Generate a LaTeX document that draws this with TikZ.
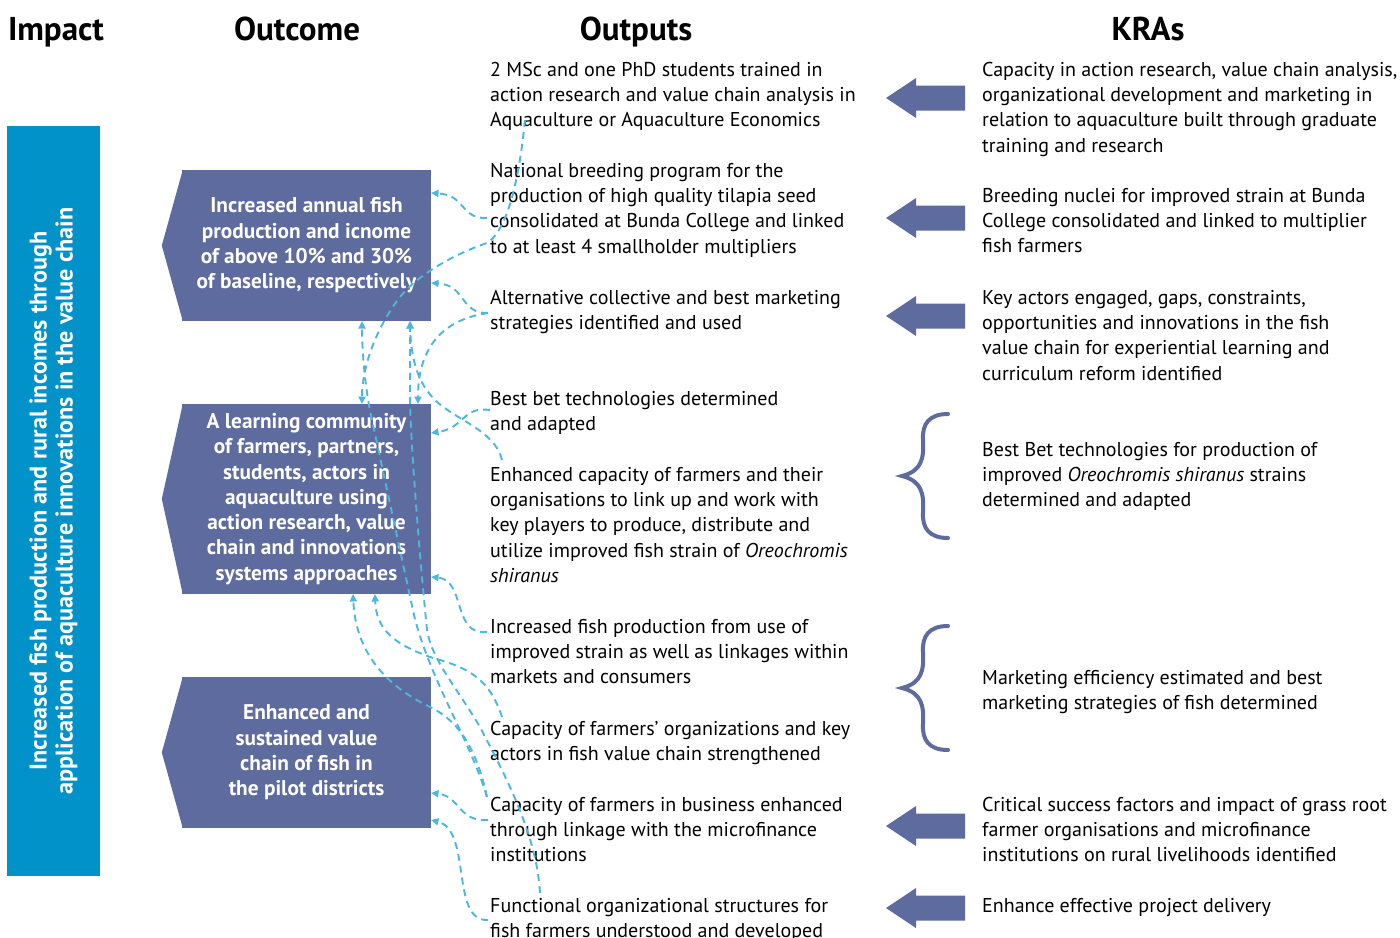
\documentclass[tikz,border=0pt]{standalone}
\usepackage{fontspec}
\setmainfont{PT Sans}
\usetikzlibrary{arrows.meta,backgrounds}
\definecolor{boxc}{RGB}{94,107,158}
\definecolor{impc}{RGB}{0,146,200}
\definecolor{dashc}{RGB}{77,182,220}
\newcommand{\bodyfs}{\fontsize{20}{25.3}\selectfont}
\newcommand{\boxfs}{\bfseries\fontsize{21.3}{25.3}\selectfont}
\newcommand{\impfs}{\bfseries\fontsize{24.2}{26}\selectfont}
\newcommand{\headfs}{\bfseries\fontsize{33}{36}\selectfont}
\begin{document}
\begin{tikzpicture}[x=1pt,y=-1pt,
  txt/.style={anchor=north west, inner sep=0pt, align=left, font=\bodyfs, yshift=17.71pt},
  hdr/.style={anchor=base, inner sep=0pt, font=\headfs},
  outbox/.style={fill=boxc, text=white, font=\boxfs, align=center, minimum width=249pt, inner sep=0pt},
  link/.style={draw=dashc, line width=1.9pt, dash pattern=on 7pt off 5pt, -{Triangle[length=7.5pt,width=7pt]}},
  brc/.style={draw=boxc, line width=4pt, line cap=round},
  kraarrow/.pic={\fill[boxc] (-39,0) -- (-9,-20) -- (-9,-12.5) -- (40,-12.5) -- (40,12.5) -- (-9,12.5) -- (-9,20) -- cycle;},
  bigbrace/.pic={\draw[brc] (46,-62) .. controls (27,-62) and (20,-52) .. (21,-36) .. controls (22,-18) and (20,-5) .. (0,0) .. controls (20,5) and (22,18) .. (21,36) .. controls (20,52) and (27,62) .. (46,62);}
]
\useasboundingbox (0,0) rectangle (1400,937);

% headers
\node[hdr] (hImpact) at (56,40) {Impact};
\node[hdr] (hOutcome) at (297,40) {Outcome};
\node[hdr] (hOutputs) at (636,40) {Outputs};
\node[hdr] (hKRAs) at (1148,40) {KRAs};

% impact bar
\node[rotate=90, fill=impc, minimum width=750pt, minimum height=93pt, inner sep=0pt,
      text=white, align=center, font=\impfs] (impact) at (53.5,501)
  {Increased fish production and rural incomes through\\application of aquaculture innovations in the value chain};

% outcome boxes
\node[outbox, minimum height=151pt] (oc1) at (306.5,245.5)
  {Increased annual fish\\production and icnome\\of above 10\% and 30\%\\of baseline, respectively};
\node[outbox, minimum height=190pt] (oc2) at (306.5,499)
  {A learning community\\of farmers, partners,\\students, actors in\\aquaculture using\\action research, value\\chain and innovations\\systems approaches};
\node[outbox, minimum height=151pt] (oc3) at (306.5,752.5)
  {Enhanced and\\sustained value\\chain of fish in\\the pilot districts};
\begin{scope}[on background layer]
  \fill[boxc] ([xshift=1pt]oc1.north west) -- ([xshift=-20pt]oc1.west) -- ([xshift=1pt]oc1.south west) -- cycle;
  \fill[boxc] ([xshift=1pt]oc2.north west) -- ([xshift=-20pt]oc2.west) -- ([xshift=1pt]oc2.south west) -- cycle;
  \fill[boxc] ([xshift=1pt]oc3.north west) -- ([xshift=-20pt]oc3.west) -- ([xshift=1pt]oc3.south west) -- cycle;
\end{scope}

% outputs
\node[txt] (out1) at (490,76) {\strut 2 MSc and one PhD students trained in\\action research and value chain analysis in\\Aquaculture or Aquaculture Economics};
\node[txt] (out2) at (490,177) {\strut National breeding program for the\\production of high quality tilapia seed\\consolidated at Bunda College and linked\\to at least 4 smallholder multipliers};
\node[txt] (out3) at (490,304) {\strut Alternative collective and best marketing\\strategies identified and used};
\node[txt] (out4) at (490,405) {\strut Best bet technologies determined\\and adapted};
\node[txt] (out5) at (490,481) {\strut Enhanced capacity of farmers and their\\organisations to link up and work with\\key players to produce, distribute and\\utilize improved fish strain of \textit{Oreochromis}\\\textit{shiranus}};
\node[txt] (out6) at (490,633) {\strut Increased fish production from use of\\improved strain as well as linkages within\\markets and consumers};
\node[txt] (out7) at (490,735) {\strut Capacity of farmers’ organizations and key\\actors in fish value chain strengthened};
\node[txt] (out8) at (490,811) {\strut Capacity of farmers in business enhanced\\through linkage with the microfinance\\institutions};
\node[txt] (out9) at (490,912) {\strut Functional organizational structures for\\fish farmers understood and developed};

% KRAs
\node[txt] (kra1) at (982,76) {\strut Capacity in action research, value chain analysis,\\organizational development and marketing in\\relation to aquaculture built through graduate\\training and research};
\node[txt] (kra2) at (982,202) {\strut Breeding nuclei for improved strain at Bunda\\College consolidated and linked to multiplier\\fish farmers};
\node[txt] (kra3) at (982,304) {\strut Key actors engaged, gaps, constraints,\\opportunities and innovations in the fish\\value chain for experiential learning and\\curriculum reform identified};
\node[txt] (kra4) at (982,456) {\strut Best Bet technologies for production of\\improved \textit{Oreochromis shiranus} strains\\determined and adapted};
\node[txt] (kra5) at (982,684) {\strut Marketing efficiency estimated and best\\marketing strategies of fish determined};
\node[txt] (kra6) at (982,811) {\strut Critical success factors and impact of grass root\\farmer organisations and microfinance\\institutions on rural livelihoods identified};
\node[txt] (kra7) at (982,912) {\strut Enhance effective project delivery};

% block arrows and braces
\pic at (925,98) {kraarrow};
\pic at (925,218) {kraarrow};
\pic at (925,316) {kraarrow};
\pic at (925,826) {kraarrow};
\pic at (925,908) {kraarrow};
\pic at (902,476) {bigbrace};
\pic at (902,688) {bigbrace};

% connector end points
\coordinate (s1) at (525,120);
\coordinate (s2) at (487,218);
\coordinate (s3) at (488,313);
\coordinate (s4) at (490,410);
\coordinate (s5) at (502,460);
\coordinate (s6) at (487,632);
\coordinate (s7) at (502,717);
\coordinate (s8) at (487,797);
\coordinate (s8b) at (488,820);
\coordinate (s9) at (488,920);
\coordinate (s9b) at (540,893);
\coordinate (t1a) at (431,193);
\coordinate (t1b) at (431,283);
\coordinate (t1c) at (362,321);
\coordinate (t1d) at (410,321);
\coordinate (t2a) at (362,404);
\coordinate (t2b) at (418,404);
\coordinate (t2c) at (431,433);
\coordinate (t2d) at (431,577);
\coordinate (t2e) at (353,594);
\coordinate (t2f) at (375,594);
\coordinate (t3a) at (431,793);
\coordinate (t3b) at (431,820);

% connectors
\draw[link] (s2) .. controls (460,219) and (466,195) .. (t1a);
\draw[link] (s3) .. controls (460,314) and (466,285) .. (t1b);
\draw[link] (s3) .. controls (440,320) and (418,350) .. (t2b);
\draw[link] (s4) .. controls (462,406) and (465,428) .. (t2c);
\draw[link] (s6) .. controls (452,636) and (466,580) .. (t2d);
\draw[link] (s8b) .. controls (458,822) and (460,796) .. (t3a);
\draw[link] (s9) .. controls (450,922) and (472,830) .. (t3b);
\draw[link] (s1) .. controls (518,190) and (505,232) .. (487,243) .. controls (460,252) and (420,272) .. (400,297) .. controls (378,325) and (362,365) .. (t2a);
\draw[link] (s8) .. controls (470,740) and (430,680) .. (414,615) -- (372,420) .. controls (365,390) and (362,350) .. (t1c);
\draw[link] (s9b) .. controls (537,835) and (505,775) .. (480,727) .. controls (455,685) and (432,660) .. (427,630) .. controls (420,560) and (411,450) .. (410,400) -- (t1d);
\draw[link] (s5) .. controls (495,430) and (455,420) .. (435,400) .. controls (418,383) and (411,360) .. (t1d);
\draw[link] (s8) .. controls (478,755) and (462,722) .. (430,707) .. controls (395,690) and (356,660) .. (t2e);
\draw[link] (s7) .. controls (490,680) and (470,668) .. (433,658) .. controls (395,645) and (376,630) .. (t2f);
\end{tikzpicture}
\end{document}
